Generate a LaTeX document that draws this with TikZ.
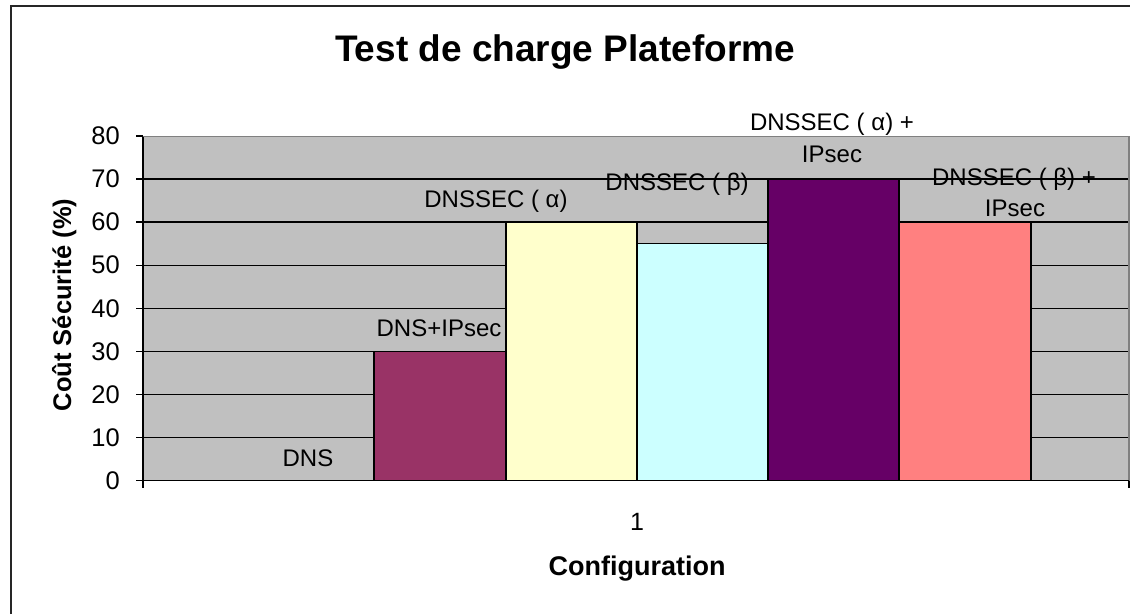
\documentclass[tikz,border=0pt]{standalone}
\usepackage{fontspec}
\setmainfont{Liberation Sans}
\definecolor{plotgray}{HTML}{C0C0C0}
\definecolor{borderg}{HTML}{808080}
\definecolor{cDnsIp}{HTML}{993366}
\definecolor{cAlpha}{HTML}{FFFFCC}
\definecolor{cBeta}{HTML}{CCFFFF}
\definecolor{cAlphaIp}{HTML}{660066}
\definecolor{cBetaIp}{HTML}{FF8080}
\tikzset{
  grid line/.style={black, line width=1.3pt},
  bar/.style={draw=black, line width=1.1pt},
  tick/.style={black, line width=1.3pt},
  barlabel/.style={anchor=base, inner sep=0pt, font=\fontsize{24}{28}\selectfont},
  ylab/.style={anchor=east, inner sep=0pt, font=\fontsize{25.5}{28}\selectfont},
}
\begin{document}
\begin{tikzpicture}[x=1pt, y=-1pt]
\useasboundingbox (0,0) rectangle (1130,614);
\fill[white] (0,0) rectangle (1130,614);

% chart frame (left and top edges)
\draw[black!85, line width=2pt] (11,614) -- (11,6) -- (1130,6);

% title
\node[anchor=base, inner sep=0pt, font=\fontsize{37}{42}\selectfont\bfseries] (title) at (565,61) {Test de charge Plateforme};

% plot area: 0 at y=480.7, 10 units = 43.1
\coordinate (pa) at (143,136.5);
\coordinate (pb) at (1129,480.7);
\fill[plotgray] (pa) rectangle (pb);

% horizontal grid lines
\foreach \v in {10,20,...,70} {
  \draw[grid line] (143,{480.7-4.31*\v}) -- (1129,{480.7-4.31*\v});
}

% bars
\draw[bar, fill=cDnsIp]   (374,480.7) rectangle (506,{480.7-4.31*30});
\draw[bar, fill=cAlpha]   (506,480.7) rectangle (637,{480.7-4.31*60});
\draw[bar, fill=cBeta]    (637,480.7) rectangle (768,{480.7-4.31*55});
\draw[bar, fill=cAlphaIp] (768,480.7) rectangle (899,{480.7-4.31*70});
\draw[bar, fill=cBetaIp]  (899,480.7) rectangle (1031,{480.7-4.31*60});

% plot border
\draw[borderg, line width=1.2pt] (143,136.5) -- (1129,136.5) -- (1129,480.7);

% axes
\draw[black, line width=1.3pt] (143,136.5) -- (143,480.7) -- (1129,480.7);

% y ticks and labels
\foreach \v in {0,10,...,80} {
  \draw[tick] (136,{480.7-4.31*\v}) -- (143,{480.7-4.31*\v});
  \node[ylab] (y\v) at (120,{480.7-4.31*\v}) {\v};
}

% category ticks
\draw[tick] (143,480.7) -- (143,488);
\draw[tick] (1129,480.7) -- (1129,488);

% data labels
\node[barlabel] (lDns)    at (308,466)   {DNS};
\node[barlabel] (lDnsIp)  at (439,336)   {DNS+IPsec};
\node[barlabel] (lAlpha)  at (496,207)   {DNSSEC ( α)};
\node[barlabel] (lBeta)   at (677,190)   {DNSSEC ( β)};
\node[barlabel] (lAlphaIpA) at (832,130) {DNSSEC ( α) +};
\node[barlabel] (lAlphaIpB) at (832,162.5) {IPsec};
\node[barlabel] (lBetaIpA)  at (1014,185) {DNSSEC ( β) +};
\node[barlabel] (lBetaIpB)  at (1015,216.7) {IPsec};

% axis titles
\node[anchor=base, inner sep=0pt, font=\fontsize{25}{28}\selectfont] (cat) at (637,530) {1};
\node[anchor=base, inner sep=0pt, font=\fontsize{27}{30}\selectfont\bfseries] (xtitle) at (637,575) {Configuration};
\node[anchor=base, rotate=90, inner sep=0pt, font=\fontsize{25.5}{30}\selectfont\bfseries] (ytitle) at (71,305) {Coût Sécurité (\%)};
\end{tikzpicture}
\end{document}
